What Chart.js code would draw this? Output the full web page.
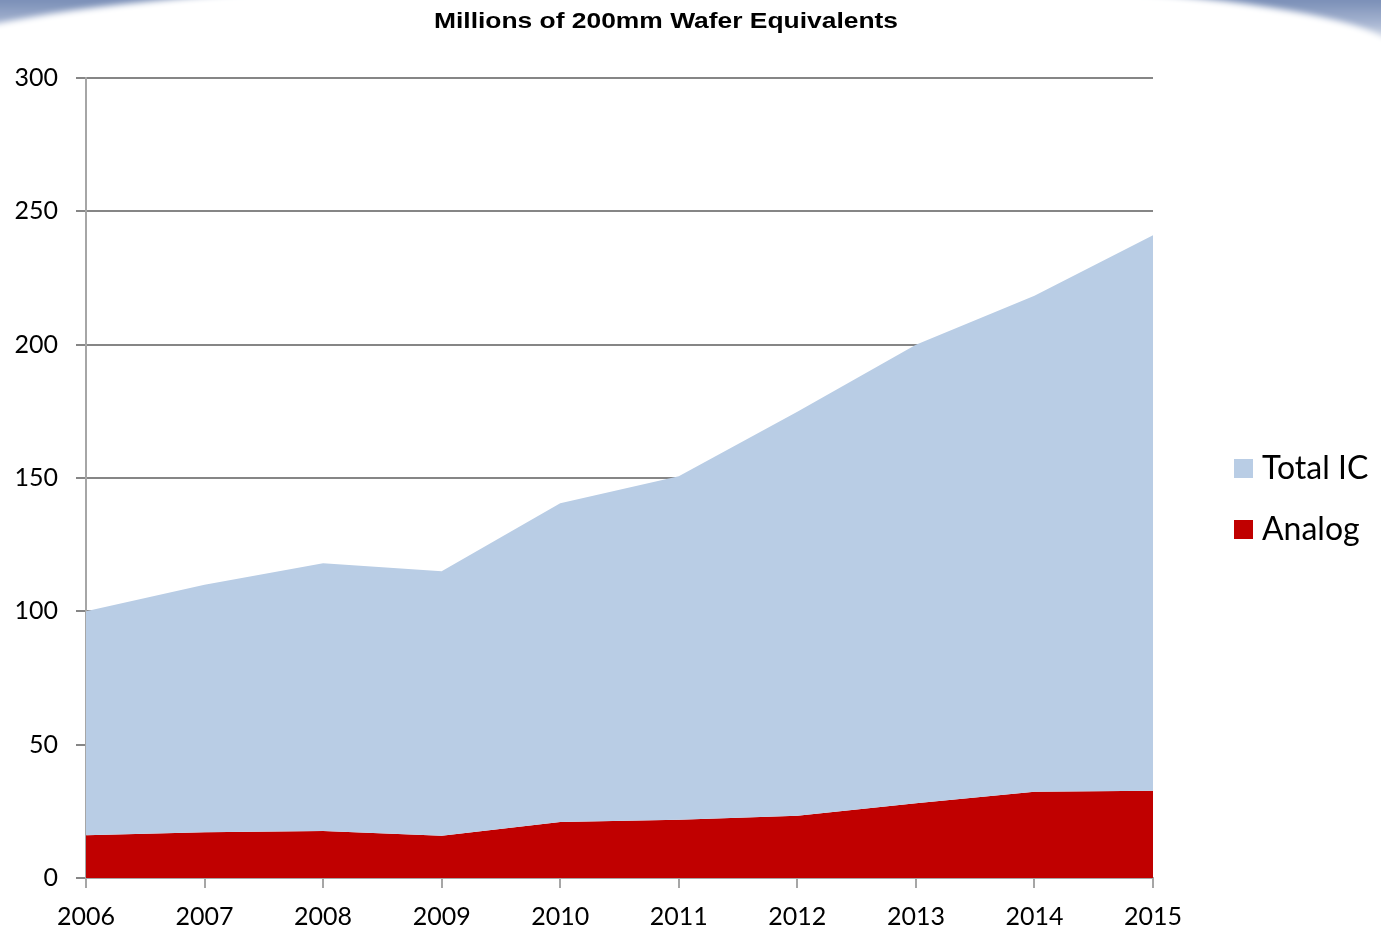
<!DOCTYPE html>
<html>
<head>
<meta charset="utf-8">
<title>Millions of 200mm Wafer Equivalents</title>
<script src="https://cdn.jsdelivr.net/npm/chart.js@4.4.1/dist/chart.umd.min.js"></script>
<style>
  html, body { margin: 0; padding: 0; background: #fff; }
  #wrap { width: 1381px; height: 931px; }
</style>
</head>
<body>
<div id="wrap"><canvas id="waferChart" width="1381" height="931"></canvas></div>
<script>
// Capacity in millions of 200mm wafer equivalents
const years = ['2006', '2007', '2008', '2009', '2010', '2011', '2012', '2013', '2014', '2015'];
const totalIC = [100, 110, 118, 115, 140.5, 150.7, 174.8, 200, 218.3, 241];
const analog = [16, 17.2, 17.6, 15.8, 21, 21.8, 23.3, 28, 32.3, 32.7];
const yTicks = [0, 50, 100, 150, 200, 250, 300];
const chartTitle = 'Millions of 200mm Wafer Equivalents';

// Blue swoosh across the top corners of the slide
const slideBackground = {
    id: 'slideBackground',
    beforeDraw(chart) {
        const c = chart.ctx;
        const w = chart.width;
        c.save();
        c.fillStyle = '#fff';
        c.fillRect(0, 0, w, chart.height);
        c.filter = 'blur(3px)';
        const g = c.createLinearGradient(0, 0, 0, 48);
        g.addColorStop(0, '#7a8fb7');
        g.addColorStop(0.5, '#a8b6d2');
        g.addColorStop(1, '#ffffff');
        c.fillStyle = g;
        c.fillRect(-10, -10, w + 20, 58);
        c.fillStyle = '#fff';
        c.beginPath();
        c.ellipse(650, 58, 745, 82, -0.008, 0, Math.PI * 2);
        c.fill();
        c.restore();
    }
};

// Slightly widened bold title, plus legend beside the plot
const titleAndLegend = {
    id: 'titleAndLegend',
    afterDraw(chart) {
        const c = chart.ctx;
        const area = chart.chartArea;
        c.save();
        c.fillStyle = '#000';
        c.font = 'bold 22px "Liberation Sans", Arial, sans-serif';
        c.textAlign = 'center';
        c.textBaseline = 'alphabetic';
        c.translate(666, 28);
        c.scale(1.2, 1);
        c.fillText(chartTitle, 0, 0);
        c.restore();

        c.save();
        c.font = '32px Lato, sans-serif';
        c.textAlign = 'left';
        c.textBaseline = 'alphabetic';
        chart.data.datasets.forEach((ds, i) => {
            const x = area.right + 81;
            const y = 459 + i * 61;
            c.fillStyle = ds.backgroundColor;
            c.fillRect(x, y, 19, 19);
            c.fillStyle = '#000';
            c.fillText(ds.label, x + 28, y + 20);
        });
        c.restore();
    }
};

new Chart(document.getElementById('waferChart').getContext('2d'), {
    type: 'line',
    data: {
        labels: years,
        datasets: [{
            label: 'Total IC',
            data: totalIC,
            backgroundColor: '#b9cde5',
            borderWidth: 0,
            pointRadius: 0,
            fill: '+1',
            tension: 0
        }, {
            label: 'Analog',
            data: analog,
            backgroundColor: '#c00000',
            borderWidth: 0,
            pointRadius: 0,
            fill: 'origin',
            tension: 0
        }]
    },
    plugins: [slideBackground, titleAndLegend],
    options: {
        responsive: false,
        animation: false,
        layout: {
            padding: { left: 0, right: 228, top: 78, bottom: 0 }
        },
        scales: {
            x: {
                offset: false,
                grid: {
                    drawOnChartArea: false,
                    drawTicks: true,
                    tickLength: 10,
                    color: '#a6a6a6',
                    lineWidth: 2
                },
                border: { color: '#a6a6a6', width: 2 },
                ticks: {
                    color: '#000',
                    padding: 14,
                    maxRotation: 0,
                    font: { family: 'Lato', size: 25 }
                },
                afterFit(scale) { scale.height = 53; }
            },
            y: {
                min: 0,
                max: 300,
                afterBuildTicks(scale) {
                    scale.ticks = yTicks.map(v => ({ value: v }));
                },
                grid: {
                    color: '#868686',
                    lineWidth: 2,
                    tickLength: 10
                },
                border: { color: '#a6a6a6', width: 2 },
                ticks: {
                    color: '#000',
                    padding: 18,
                    font: { family: 'Lato', size: 25 }
                },
                afterFit(scale) { scale.width = 86; }
            }
        },
        plugins: {
            title: { display: false },
            legend: { display: false },
            tooltip: { enabled: false }
        }
    }
});
</script>
</body>
</html>
